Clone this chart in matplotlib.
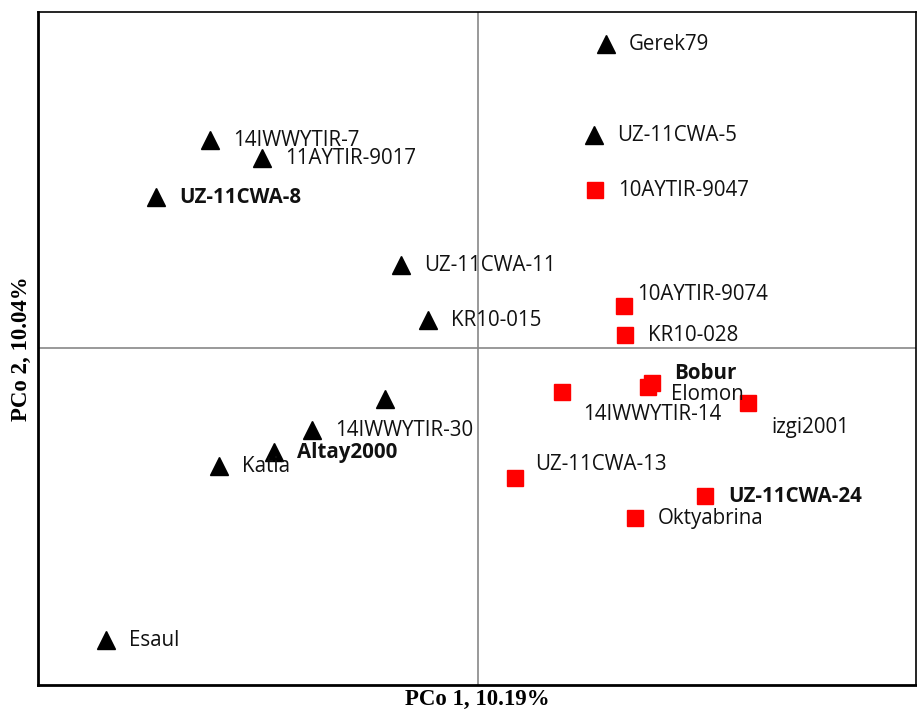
import matplotlib.pyplot as plt

# triangles (black) group
tri_names = ['Gerek79', 'UZ-11CWA-5', '14IWWYTIR-7', '11AYTIR-9017', 'UZ-11CWA-8',
             'UZ-11CWA-11', 'KR10-015', '', '14IWWYTIR-30', 'Altay2000', 'Katia', 'Esaul']
tri_x = [1.28, 1.16, -2.68, -2.16, -3.22, -0.77, -0.50, -0.93, -1.66, -2.04, -2.59, -3.72]
tri_y = [3.04, 2.13, 2.08, 1.90, 1.51, 0.83, 0.28, -0.51, -0.82, -1.04, -1.18, -2.92]
tri_bold = ['UZ-11CWA-8', 'Altay2000']

# squares (red) group
sq_names = ['10AYTIR-9047', '10AYTIR-9074', 'KR10-028', 'Bobur', 'Elomon',
            '14IWWYTIR-14', 'izgi2001', 'UZ-11CWA-13', 'UZ-11CWA-24', 'Oktyabrina']
sq_x = [1.17, 1.46, 1.47, 1.74, 1.70, 0.84, 2.70, 0.37, 2.27, 1.57]
sq_y = [1.58, 0.42, 0.13, -0.35, -0.39, -0.44, -0.55, -1.30, -1.48, -1.70]
sq_bold = ['Bobur', 'UZ-11CWA-24']

# label offsets in points (default is right of marker)
offsets = {
    '10AYTIR-9074': (9.5, 8.5),
    'Bobur': (16, 6.5),
    'Elomon': (16.5, -5.5),
    '14IWWYTIR-14': (15, -16.5),
    'izgi2001': (16.5, -17.5),
    'UZ-11CWA-13': (14.5, 9.5),
}

fig = plt.figure(figsize=(9.17, 7.14), dpi=100)
ax = fig.add_axes([0.0414, 0.0406, 0.9575, 0.9426])

ax.axhline(0, color='#888888', lw=1.2, zorder=1)
ax.axvline(0, color='#888888', lw=1.2, zorder=1)

ax.plot(tri_x, tri_y, '^', color='black', ms=13, ls='none', zorder=3)
ax.plot(sq_x, sq_y, 's', color='#ff0000', ms=12, ls='none', zorder=3)

for names, xs, ys, bold in [(tri_names, tri_x, tri_y, tri_bold), (sq_names, sq_x, sq_y, sq_bold)]:
    for n, x, y in zip(names, xs, ys):
        if not n:
            continue
        dx, dy = offsets.get(n, (16.5, -0.7))
        ax.annotate(n, (x, y), xytext=(dx, dy), textcoords='offset points',
                    ha='left', va='center', fontsize=14.8, family='Open Sans',
                    fontweight='bold' if n in bold else 'normal', color='#111111')

ax.set_xlim(-4.40, 4.38)
ax.set_ylim(-3.37, 3.36)
ax.set_xticks([])
ax.set_yticks([])
for s in ['left', 'bottom']:
    ax.spines[s].set_linewidth(2)
for s in ['top', 'right']:
    ax.spines[s].set_linewidth(1.2)

ax.set_xlabel('PCo 1, 10.19%', fontsize=16.5, fontweight='bold', family='Liberation Serif', labelpad=3)
ax.set_ylabel('PCo 2, 10.04%', fontsize=16.5, fontweight='bold', family='Liberation Serif', labelpad=4)

fig.savefig('out.png', dpi=100)
